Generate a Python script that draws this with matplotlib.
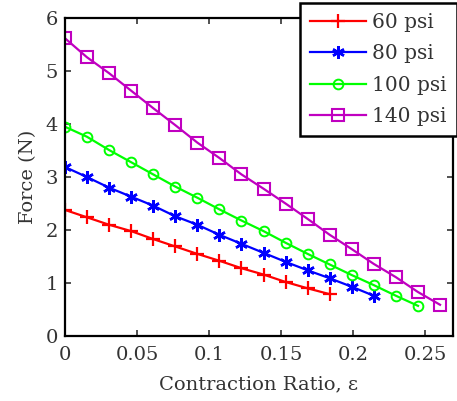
import numpy as np
import matplotlib
matplotlib.use('Agg')
import matplotlib.pyplot as plt

# contraction ratio step between samples
eps_step = 0.0153

# force (N) for each supply pressure
f60 = [2.38, 2.24, 2.10, 1.98, 1.83, 1.69, 1.55, 1.42, 1.28, 1.16, 1.02, 0.90, 0.79]
f80 = [3.19, 3.00, 2.80, 2.63, 2.46, 2.26, 2.10, 1.91, 1.74, 1.57, 1.40, 1.24, 1.09, 0.93, 0.76]
f100 = [3.95, 3.76, 3.51, 3.28, 3.05, 2.82, 2.61, 2.39, 2.18, 1.98, 1.76, 1.55, 1.35, 1.15,
        0.96, 0.76, 0.57]
f140 = [5.62, 5.26, 4.96, 4.63, 4.30, 3.98, 3.65, 3.36, 3.05, 2.78, 2.50, 2.21, 1.91, 1.64,
        1.36, 1.11, 0.83, 0.59]

labels = ['60 psi', '80 psi', '100 psi', '140 psi']
colors = ['#ff0000', '#0000ff', '#00ff00', '#c000c0']
markers = ['+', (6, 2, 0), 'o', 's']

xticks = [0, 0.05, 0.1, 0.15, 0.2, 0.25]
xticklabels = ['0', '0.05', '0.1', '0.15', '0.2', '0.25']
yticks = [0, 1, 2, 3, 4, 5, 6]

plt.rcParams['font.family'] = ['DejaVu Serif']

fig = plt.figure(figsize=(4.57, 4.01), dpi=100)
ax = fig.add_axes([0.142, 0.162, 0.849, 0.793])

for f, lab, c, m in zip([f60, f80, f100, f140], labels, colors, markers):
    x = np.arange(len(f)) * eps_step
    if m == 's':
        ax.plot(x, f, color=c, lw=1.6, marker=m, ms=8, mfc='none', mec=c, mew=1.5, label=lab)
    elif m == 'o':
        ax.plot(x, f, color=c, lw=1.6, marker=m, ms=7, mfc='none', mec=c, mew=1.4, label=lab)
    elif m == '+':
        ax.plot(x, f, color=c, lw=1.6, marker=m, ms=10, mec=c, mew=1.6, label=lab)
    else:
        ax.plot(x, f, color=c, lw=1.6, marker=m, ms=9, mec=c, mew=1.8, label=lab)

ax.set_xlim(0, 0.269)
ax.set_ylim(0, 6)
ax.set_xticks(xticks)
ax.set_xticklabels(xticklabels)
ax.set_yticks(yticks)
ax.tick_params(direction='in', top=True, right=True, length=4, width=1.2,
               labelsize=14, colors='#333333')
ax.tick_params(axis='x', pad=7)
ax.tick_params(axis='y', pad=5)
for s in ax.spines.values():
    s.set_linewidth(1.6)

ax.set_xlabel('Contraction Ratio, ε', fontsize=14, color='#333333', labelpad=8)
ax.set_ylabel('Force (N)', fontsize=14, color='#333333', labelpad=6)

leg = fig.legend(loc='upper left', bbox_to_anchor=(0.656, 0.993), fontsize=14.5,
                 frameon=True, fancybox=False, handlelength=2.8, borderpad=0.5,
                 labelspacing=0.62, handletextpad=0.3, borderaxespad=0)
leg.get_frame().set_edgecolor('black')
leg.get_frame().set_linewidth(1.8)
leg.get_frame().set_alpha(1)
for t in leg.get_texts():
    t.set_color('#333333')

plt.savefig('out.png', dpi=100)
